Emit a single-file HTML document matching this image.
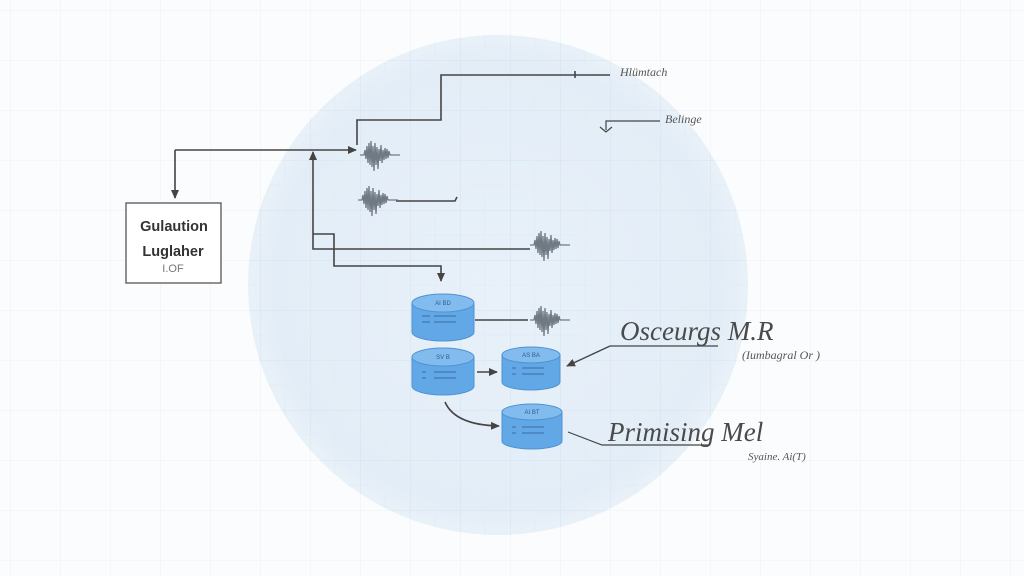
<!DOCTYPE html>
<html><head><meta charset="utf-8"><style>
html,body{margin:0;padding:0;background:#fdfdfe;}
svg{display:block}
</style></head><body>
<svg width="1024" height="576" viewBox="0 0 1024 576" xmlns="http://www.w3.org/2000/svg">
<defs>
<pattern id="g" width="50" height="50" patternUnits="userSpaceOnUse" x="10" y="10">
<path d="M0 0H50M0 0V50" stroke="#d3e3f0" stroke-width="1" fill="none"/>
<path d="M0 25H50M25 0V50" stroke="#e2edf6" stroke-width="0.8" fill="none"/>
</pattern>
<pattern id="g2" width="50" height="50" patternUnits="userSpaceOnUse" x="10" y="10">
<path d="M0 0H50M0 0V50" stroke="#eef2f6" stroke-width="1" fill="none"/>
</pattern>
<radialGradient id="c" cx="0.5" cy="0.5" r="0.5">
<stop offset="0" stop-color="#e8f1f9"/><stop offset="0.9" stop-color="#e3edf7"/><stop offset="1" stop-color="#e9f1f8"/>
</radialGradient>
<clipPath id="cc"><circle cx="498" cy="285" r="250"/></clipPath>
<g id="w" fill="none" stroke="#6f7a84" stroke-width="1.3">
<path d="M0 0H4L5 -5L6 4L7 -9L8 8L9 -12L10 10L11 -14L12 12L13 -9L14 16L15 -12L16 10L17 -8L18 14L19 -6L20 6L21 -10L22 8L23 -5L24 5L25 -7L26 4L27 -6L28 3L29 -4L30 0H40"/>
</g>
<marker id="a" markerWidth="10" markerHeight="10" refX="8" refY="5" orient="auto" markerUnits="userSpaceOnUse"><path d="M0 1L9 5L0 9Z" fill="#444"/></marker>
</defs>
<rect width="1024" height="576" fill="#fbfcfd"/>
<rect width="1024" height="576" fill="url(#g2)"/>
<circle cx="498" cy="285" r="250" fill="url(#c)"/>
<rect width="1024" height="576" fill="url(#g)" clip-path="url(#cc)"/>

<g fill="none" stroke="#444" stroke-width="1.6">
<path d="M441 100V75H610"/>
<path d="M575 71V78"/>
<path d="M357 145V120H441V100"/>
<path d="M175 150H356" marker-end="url(#a)"/>
<path d="M175 150V198" marker-end="url(#a)"/>
<path d="M313 234V152" marker-end="url(#a)"/>
<path d="M313 234H334V266H441V281" marker-end="url(#a)"/>
<path d="M313 234V249H530"/>
<path d="M396 201H455L457 197"/>
<path d="M475 320H528"/>
<path d="M477 372H497" marker-end="url(#a)"/>
<path d="M445 402Q455 425 499 426" marker-end="url(#a)"/>
<path d="M610 346H718" stroke-width="1.2"/>
<path d="M610 346L567 366" marker-end="url(#a)" stroke-width="1.4"/>
<path d="M568 432L602 445H710" stroke-width="1.2"/>
<path d="M660 121H606V130" stroke-width="1.2"/>
<path d="M600 127L606 132L612 127" stroke-width="1.2"/>
</g>

<use href="#w" x="360" y="155"/>
<use href="#w" x="358" y="200"/>
<use href="#w" x="530" y="245"/>
<use href="#w" x="530" y="320"/>

<rect x="126" y="203" width="95" height="80" fill="#fff" stroke="#555" stroke-width="1.3"/>
<text x="174" y="231" text-anchor="middle" font-family="Liberation Sans,sans-serif" font-size="14.5" font-weight="bold" fill="#333">Gulaution</text>
<text x="173" y="256" text-anchor="middle" font-family="Liberation Sans,sans-serif" font-size="14.5" font-weight="bold" fill="#333">Luglaher</text>
<text x="173" y="272" text-anchor="middle" font-family="Liberation Sans,sans-serif" font-size="11" fill="#777">I.OF</text>

<g font-family="Liberation Sans,sans-serif" font-size="6" fill="#2d5b8a">
<g transform="translate(412,294)">
<path d="M0 9V38A31 9 0 0 0 62 38V9" fill="#62a8e6" stroke="#4f93d2"/>
<ellipse cx="31" cy="9" rx="31" ry="9" fill="#82bcef" stroke="#4f93d2"/>
<text x="31" y="11" text-anchor="middle">AI BD</text>
<path d="M22 22H44M22 28H44M10 22H18M10 28H18" stroke="#2d5b8a" stroke-width="0.8"/>
</g>
<g transform="translate(412,348)">
<path d="M0 9V38A31 9 0 0 0 62 38V9" fill="#62a8e6" stroke="#4f93d2"/>
<ellipse cx="31" cy="9" rx="31" ry="9" fill="#82bcef" stroke="#4f93d2"/>
<text x="31" y="11" text-anchor="middle">SV B</text>
<path d="M22 24H44M22 30H44M10 24H14M10 30H14" stroke="#2d5b8a" stroke-width="0.8"/>
</g>
<g transform="translate(502,346)">
<path d="M0 9V36A29 8 0 0 0 58 36V9" fill="#62a8e6" stroke="#4f93d2"/>
<ellipse cx="29" cy="9" rx="29" ry="8" fill="#82bcef" stroke="#4f93d2"/>
<text x="29" y="11" text-anchor="middle">AS BA</text>
<path d="M20 22H42M20 28H42M10 22H14M10 28H14" stroke="#2d5b8a" stroke-width="0.8"/>
</g>
<g transform="translate(502,403)">
<path d="M0 9V38A30 8 0 0 0 60 38V9" fill="#62a8e6" stroke="#4f93d2"/>
<ellipse cx="30" cy="9" rx="30" ry="8" fill="#82bcef" stroke="#4f93d2"/>
<text x="30" y="11" text-anchor="middle">AI BT</text>
<path d="M20 24H42M20 30H42M10 24H14M10 30H14" stroke="#2d5b8a" stroke-width="0.8"/>
</g>
</g>

<g font-family="Liberation Serif,serif" font-style="italic" fill="#555">
<text x="620" y="76" font-size="12">Hlümtach</text>
<text x="665" y="123" font-size="12">Belinge</text>
<text x="620" y="340" font-size="27" fill="#4a4a4a">Osceurgs M.R</text>
<text x="742" y="359" font-size="12">(Iumbagral Or )</text>
<text x="608" y="441" font-size="27" fill="#4a4a4a">Primising Mel</text>
<text x="748" y="460" font-size="11">Syaine. Ai(T)</text>
</g>
</svg>
</body></html>
